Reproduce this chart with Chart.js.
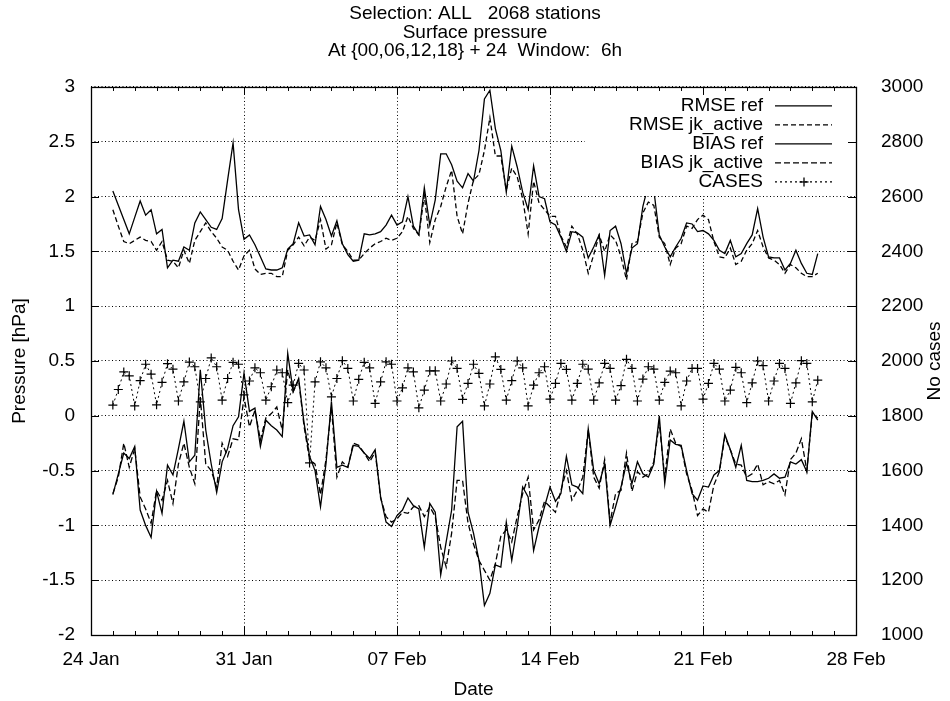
<!DOCTYPE html>
<html>
<head>
<meta charset="utf-8">
<script src="https://cdn.jsdelivr.net/npm/chart.js@4/dist/chart.umd.min.js"></script>
<style>
  html, body { margin: 0; padding: 0; background: #fff; }
  #wrap { width: 950px; height: 701px; }
</style>
</head>
<body>
<div id="wrap"><canvas id="grafico"></canvas></div>
<script>
const titleLines = ['Selection: ALL   2068 stations', 'Surface pressure', 'At {00,06,12,18} + 24  Window:  6h'];
const dateLabels = ['24 Jan', '31 Jan', '07 Feb', '14 Feb', '21 Feb', '28 Feb'];
const dateTickDays = [0, 7, 14, 21, 28, 35];
const pressureTicks = [-2, -1.5, -1, -0.5, 0, 0.5, 1, 1.5, 2, 2.5, 3];
const casesTicks = [1000, 1200, 1400, 1600, 1800, 2000, 2200, 2400, 2600, 2800, 3000];

// verification times: every 6 h starting 25 Jan 00 (days after 24 Jan)
const firstDay = 1;
const stepDays = 0.25;

const rmseRef = [
  2.05, 1.92, 1.79, 1.66, 1.81, 1.96, 1.83, 1.88, 1.66, 1.70, 1.35, 1.42, 1.41, 1.54, 1.51, 1.76, 1.86, 1.79, 1.72, 1.70,
  1.80, 2.15, 2.49, 1.88, 1.61, 1.65, 1.56, 1.45, 1.34, 1.33, 1.33, 1.35, 1.52, 1.57, 1.76, 1.64, 1.65, 1.56, 1.91, 1.79,
  1.64, 1.78, 1.57, 1.47, 1.41, 1.42, 1.66, 1.65, 1.66, 1.68, 1.74, 1.83, 1.74, 1.77, 2.00, 1.73, 1.65, 2.08, 1.74, 1.97,
  2.39, 2.39, 2.29, 2.14, 2.08, 2.21, 2.14, 2.42, 2.89, 2.97, 2.62, 2.42, 2.04, 2.46, 2.27, 2.04, 1.88, 2.28, 2.00, 1.98,
  1.77, 1.74, 1.63, 1.50, 1.68, 1.67, 1.63, 1.44, 1.54, 1.65, 1.28, 1.69, 1.73, 1.57, 1.30, 1.53, 1.57, 1.91, 2.11, 2.06,
  1.65, 1.54, 1.45, 1.54, 1.62, 1.76, 1.75, 1.68, 1.69, 1.66, 1.60, 1.51, 1.48, 1.60, 1.45, 1.48, 1.57, 1.65, 1.89, 1.63,
  1.45, 1.44, 1.44, 1.33, 1.39, 1.51, 1.39, 1.30, 1.29, 1.48
];
const rmseJk = [
  1.88, 1.73, 1.59, 1.57, 1.60, 1.63, 1.60, 1.59, 1.51, 1.59, 1.42, 1.41, 1.35, 1.51, 1.39, 1.60, 1.68, 1.76, 1.68, 1.62,
  1.54, 1.51, 1.41, 1.33, 1.46, 1.51, 1.34, 1.29, 1.30, 1.30, 1.27, 1.27, 1.51, 1.56, 1.63, 1.55, 1.63, 1.60, 1.79, 1.52,
  1.56, 1.76, 1.56, 1.50, 1.42, 1.42, 1.48, 1.53, 1.57, 1.59, 1.62, 1.60, 1.62, 1.68, 1.82, 1.71, 1.65, 2.01, 1.58, 1.79,
  1.91, 2.09, 2.24, 1.82, 1.66, 1.94, 2.15, 2.20, 2.42, 2.72, 2.37, 2.37, 2.06, 2.26, 2.18, 1.98, 1.66, 2.14, 1.94, 1.88,
  1.82, 1.82, 1.64, 1.54, 1.73, 1.66, 1.51, 1.30, 1.47, 1.65, 1.50, 1.65, 1.60, 1.45, 1.24, 1.57, 1.59, 1.85, 1.95, 1.92,
  1.63, 1.57, 1.38, 1.53, 1.57, 1.73, 1.71, 1.79, 1.83, 1.79, 1.59, 1.45, 1.44, 1.53, 1.38, 1.41, 1.51, 1.57, 1.69, 1.54,
  1.44, 1.42, 1.38, 1.30, 1.38, 1.35, 1.30, 1.27, 1.27, 1.30
];
const biasRef = [
  -0.72, -0.53, -0.34, -0.39, -0.28, -0.86, -1.00, -1.11, -0.69, -0.89, -0.45, -0.54, -0.30, -0.05, -0.42, -0.36, 0.42, -0.13, -0.44, -0.70,
  -0.42, -0.30, -0.09, -0.01, 0.39, 0.04, 0.07, -0.28, -0.04, -0.09, -0.13, -0.19, 0.57, 0.22, 0.34, -0.07, -0.37, -0.50, -0.83, -0.44,
  0.13, -0.47, -0.45, -0.47, -0.27, -0.28, -0.34, -0.39, -0.31, -0.74, -0.97, -1.01, -0.91, -0.86, -0.75, -0.82, -0.85, -1.20, -0.80, -0.88,
  -1.45, -1.15, -0.86, -0.10, -0.05, -0.88, -1.07, -1.32, -1.73, -1.62, -1.36, -1.38, -0.97, -1.32, -1.01, -0.65, -0.74, -1.23, -1.01, -0.83,
  -0.65, -0.78, -0.71, -0.37, -0.63, -0.65, -0.71, -0.12, -0.50, -0.62, -0.44, -1.00, -0.83, -0.65, -0.43, -0.62, -0.42, -0.53, -0.56, -0.44,
  0.00, -0.62, -0.22, -0.26, -0.27, -0.50, -0.71, -0.77, -0.64, -0.65, -0.54, -0.50, -0.17, -0.31, -0.47, -0.27, -0.59, -0.60, -0.60, -0.59,
  -0.57, -0.53, -0.57, -0.56, -0.42, -0.44, -0.40, -0.51, 0.04, -0.04
];
const biasJk = [
  -0.71, -0.56, -0.25, -0.47, -0.30, -0.74, -0.85, -0.98, -0.68, -0.77, -0.59, -0.80, -0.44, -0.25, -0.47, -0.62, 0.17, -0.44, -0.50, -0.65,
  -0.25, -0.37, -0.21, -0.22, 0.17, -0.10, 0.05, -0.22, -0.02, 0.02, 0.08, -0.13, 0.42, 0.22, 0.33, -0.10, -0.40, -0.44, -0.72, -0.40,
  0.08, -0.56, -0.42, -0.47, -0.25, -0.27, -0.34, -0.42, -0.33, -0.75, -0.92, -0.97, -0.94, -0.88, -0.89, -0.83, -0.82, -0.92, -0.83, -0.92,
  -1.20, -1.38, -1.07, -0.59, -0.59, -0.98, -1.17, -1.32, -1.41, -1.50, -1.35, -1.10, -1.04, -1.15, -0.92, -0.71, -0.56, -1.04, -0.95, -0.78,
  -0.83, -0.88, -0.68, -0.50, -0.77, -0.68, -0.56, -0.13, -0.56, -0.66, -0.40, -0.97, -0.71, -0.68, -0.34, -0.69, -0.51, -0.56, -0.53, -0.42,
  -0.07, -0.56, -0.12, -0.25, -0.28, -0.53, -0.68, -0.91, -0.85, -0.88, -0.63, -0.51, -0.19, -0.31, -0.44, -0.45, -0.56, -0.53, -0.44, -0.63,
  -0.60, -0.62, -0.59, -0.72, -0.40, -0.34, -0.21, -0.50, 0.02, -0.02
];
const cases = [
  1839, 1896, 1960, 1946, 1836, 1928, 1988, 1952, 1840, 1922, 1990, 1970, 1854, 1924, 1996, 1979, 1851, 1936, 2011, 1979,
  1857, 1936, 1995, 1988, 1876, 1927, 1975, 1957, 1857, 1906, 1967, 1957, 1848, 1912, 1991, 1967, 1628, 1924, 1997, 1975,
  1869, 1936, 2001, 1973, 1854, 1933, 1995, 1975, 1845, 1924, 1997, 1988, 1854, 1902, 1975, 1960, 1829, 1894, 1964, 1964,
  1854, 1916, 2000, 1973, 1860, 1918, 1988, 1955, 1836, 1916, 2015, 1969, 1857, 1928, 2000, 1975, 1836, 1912, 1957, 1979,
  1861, 1918, 1991, 1969, 1857, 1918, 1988, 1970, 1857, 1920, 1991, 1973, 1857, 1910, 2006, 1973, 1854, 1934, 1979, 1970,
  1857, 1922, 1963, 1957, 1836, 1927, 1973, 1973, 1861, 1918, 1991, 1970, 1854, 1894, 1977, 1957, 1848, 1920, 2000, 1983,
  1854, 1927, 1991, 1973, 1845, 1920, 2001, 1991, 1851, 1930
];

const FONT = 'Liberation Sans, Arial, sans-serif';
const FONT_SIZE = 19;

const asPoints = values => values.map((v, i) => ({ x: firstDay + i * stepDays, y: v }));

const series = [
  { label: 'RMSE ref', data: rmseRef, dash: [], axis: 'y' },
  { label: 'RMSE jk_active', data: rmseJk, dash: [5, 3], axis: 'y' },
  { label: 'BIAS ref', data: biasRef, dash: [], axis: 'y' },
  { label: 'BIAS jk_active', data: biasJk, dash: [6, 3], axis: 'y' },
  { label: 'CASES', data: cases, dash: [2, 3], axis: 'y2', cross: true }
];

// gnuplot style key box, frame and inward ticks
const moldura = {
  id: 'moldura',
  afterDatasetsDraw(chart) {
    const { ctx, chartArea: a, scales: { x, y, y2 } } = chart;
    const line = (x1, y1, x2, y2b) => { ctx.beginPath(); ctx.moveTo(x1, y1); ctx.lineTo(x2, y2b); ctx.stroke(); };
    ctx.save();

    // key
    const keyLeft = a.right - 271;
    const keyBottom = a.top + 108;
    ctx.fillStyle = '#fff';
    ctx.fillRect(keyLeft, a.top + 1, a.right - keyLeft - 1, keyBottom - a.top);
    ctx.font = FONT_SIZE + 'px ' + FONT;
    ctx.textAlign = 'right';
    ctx.textBaseline = 'middle';
    ctx.fillStyle = '#000';
    ctx.strokeStyle = '#000';
    series.forEach((s, i) => {
      const ry = a.top + 19 + i * 19;
      ctx.fillText(s.label, a.right - 93, ry);
      ctx.lineWidth = 1.3;
      ctx.setLineDash(s.dash);
      line(a.right - 81, ry, a.right - 24, ry);
      ctx.setLineDash([]);
      if (s.cross) {
        const cx = a.right - 52;
        line(cx - 4.5, ry, cx + 4.5, ry);
        line(cx, ry - 4.5, cx, ry + 4.5);
      }
    });

    // ticks
    ctx.lineWidth = 1;
    for (let d = 0; d <= 35; d++) {
      const px = Math.round(x.getPixelForValue(d)) + 0.5;
      const len = dateTickDays.includes(d) ? 8 : 4;
      line(px, a.bottom, px, a.bottom - len);
      line(px, a.top, px, a.top + len);
    }
    pressureTicks.forEach(v => {
      const py = Math.round(y.getPixelForValue(v)) + 0.5;
      line(a.left, py, a.left + 8, py);
    });
    casesTicks.forEach(v => {
      const py = Math.round(y2.getPixelForValue(v)) + 0.5;
      line(a.right, py, a.right - 8, py);
    });

    ctx.lineWidth = 1.3;
    ctx.strokeRect(a.left + 0.5, a.top + 0.5, a.right - a.left, a.bottom - a.top);

    // right axis title
    ctx.translate(a.right + 79, (a.top + a.bottom) / 2);
    ctx.rotate(-Math.PI / 2);
    ctx.textAlign = 'center';
    ctx.fillText('No cases', 0, 0);
    ctx.restore();
  }
};

Chart.defaults.font.family = FONT;
Chart.defaults.font.size = FONT_SIZE;
Chart.defaults.color = '#000';

new Chart(document.getElementById('grafico'), {
  type: 'line',
  data: {
    datasets: series.map(s => ({
      label: s.label,
      data: asPoints(s.data),
      yAxisID: s.axis,
      borderColor: '#000',
      backgroundColor: '#000',
      borderWidth: s.cross ? 1 : 1.3,
      borderDash: s.dash,
      pointRadius: s.cross ? 4.5 : 0,
      pointStyle: s.cross ? 'cross' : 'circle',
      pointBorderWidth: 1.2,
      tension: 0,
      fill: false
    }))
  },
  options: {
    responsive: true,
    maintainAspectRatio: false,
    devicePixelRatio: 1,
    animation: false,
    layout: { padding: 0 },
    plugins: {
      legend: { display: false },
      tooltip: { enabled: false },
      title: {
        display: true,
        text: titleLines,
        font: { size: FONT_SIZE, weight: 'normal', lineHeight: 0.98 },
        padding: { top: 4.7, bottom: 26.4 }
      }
    },
    scales: {
      x: {
        type: 'linear',
        min: 0,
        max: 35,
        afterBuildTicks: s => { s.ticks = dateTickDays.map(v => ({ value: v })); },
        afterFit: s => { s.height = 66; },
        ticks: { callback: (v, i) => dateLabels[i], padding: 13.5, maxRotation: 0, autoSkip: false },
        grid: { color: '#000', lineWidth: 1, drawTicks: false },
        border: { display: false, dash: [1, 2.5] },
        title: { display: true, text: 'Date', padding: { top: 0, bottom: 0 } }
      },
      y: {
        position: 'left',
        min: -2,
        max: 3,
        afterBuildTicks: s => { s.ticks = pressureTicks.map(v => ({ value: v })); },
        afterFit: s => { s.width = 91; },
        ticks: { callback: v => String(v), padding: 16 },
        grid: { color: '#000', lineWidth: 1, drawTicks: false },
        border: { display: false, dash: [1, 2.5] },
        title: { display: true, text: 'Pressure [hPa]', padding: { top: 8.6, bottom: 0 } }
      },
      y2: {
        position: 'right',
        min: 1000,
        max: 3000,
        afterBuildTicks: s => { s.ticks = casesTicks.map(v => ({ value: v })); },
        afterFit: s => { s.width = 94; },
        ticks: { callback: v => String(v), padding: 17 },
        grid: { display: false, drawOnChartArea: false },
        border: { display: false }
      }
    }
  },
  plugins: [moldura]
});
</script>
</body>
</html>
